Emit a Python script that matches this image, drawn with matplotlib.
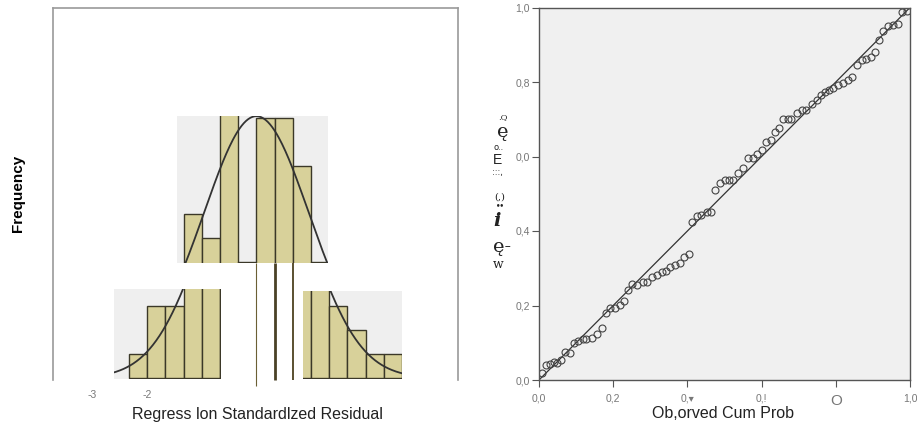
import numpy as np
import matplotlib
matplotlib.use("Agg")
import matplotlib.pyplot as plt

plt.rcParams['font.family'] = ['Liberation Sans', 'DejaVu Sans']

W, H = 917, 426

# histogram of standardized residuals (bins of 1/3)
bin_edges = np.arange(-7, 9) / 3.0
counts = [1, 3, 3, 6, 5, 11, 4, 10, 10, 8, 4, 3, 2, 1, 1]
res_mean = 0.0
res_std = 0.95
hist_ticks = [-3, -2]
hist_ticklabels = ["-3", "-2"]

# P-P plot: observed vs expected cum prob
obs_cum = [0.007, 0.019, 0.030, 0.040, 0.049, 0.058, 0.070, 0.084, 0.093, 0.106,
           0.118, 0.128, 0.142, 0.155, 0.169, 0.180, 0.191, 0.205, 0.218, 0.229,
           0.241, 0.252, 0.265, 0.279, 0.290, 0.304, 0.317, 0.331, 0.342, 0.353,
           0.367, 0.380, 0.391, 0.403, 0.413, 0.425, 0.438, 0.452, 0.463, 0.474,
           0.488, 0.501, 0.513, 0.524, 0.537, 0.549, 0.562, 0.576, 0.587, 0.600,
           0.612, 0.624, 0.636, 0.648, 0.659, 0.670, 0.679, 0.695, 0.708, 0.721,
           0.735, 0.748, 0.759, 0.771, 0.783, 0.793, 0.807, 0.820, 0.834, 0.845,
           0.858, 0.870, 0.881, 0.894, 0.907, 0.917, 0.928, 0.942, 0.955, 0.969,
           0.978, 0.991]
exp_cum = [0.020, 0.040, 0.042, 0.047, 0.045, 0.055, 0.074, 0.073, 0.100, 0.106,
           0.109, 0.109, 0.112, 0.123, 0.139, 0.179, 0.192, 0.192, 0.201, 0.212,
           0.242, 0.258, 0.255, 0.264, 0.264, 0.277, 0.282, 0.291, 0.293, 0.304,
           0.309, 0.315, 0.331, 0.338, 0.425, 0.440, 0.443, 0.452, 0.452, 0.510,
           0.530, 0.537, 0.538, 0.537, 0.555, 0.568, 0.595, 0.595, 0.608, 0.617,
           0.640, 0.644, 0.666, 0.677, 0.702, 0.702, 0.702, 0.716, 0.725, 0.725,
           0.742, 0.751, 0.765, 0.774, 0.778, 0.785, 0.792, 0.796, 0.805, 0.814,
           0.845, 0.859, 0.863, 0.866, 0.881, 0.914, 0.937, 0.950, 0.953, 0.955,
           0.988, 0.991]
pp_ticks = [0.0, 0.2, 0.4, 0.6, 0.8, 1.0]
pp_yticklabels = ["0,0", "0,2", "0,4", "0,0", "0,8", "1,0"]
pp_xticklabels = ["0,0", "0,2", "0,\u25be", "0,!", "O", "1,0"]

BAR = "#d8d19a"
EDGE = "#3b3828"
PANEL = "#efefef"


def rect(l, t, r, b):
    return [l / W, 1 - b / H, (r - l) / W, (b - t) / H]


fig = plt.figure(figsize=(W / 100, H / 100), dpi=100)

# ---- left: histogram frame
px_per_unit = 54.6
zero_px = 256.4
count_px = 24.0
base_px = 378.0


def zx(px):
    return (px - zero_px) / px_per_unit


def cy(px):
    return (base_px - px) / count_px


frame = fig.add_axes(rect(53, 8, 458, 380))
frame.set_xlim(zx(53), zx(458))
frame.set_ylim(cy(380), cy(8))
frame.set_facecolor("none")
for s in ["left", "top", "right"]:
    frame.spines[s].set_color("#9a9a9a")
    frame.spines[s].set_linewidth(1.2)
frame.spines["bottom"].set_visible(False)
frame.set_yticks([])
frame.set_xticks(hist_ticks)
frame.set_xticklabels(hist_ticklabels, color="#777777", fontsize=7.5)
frame.tick_params(axis="x", length=0, pad=7)

zz = np.linspace(-4, 4, 400)
curve = sum(counts) * (bin_edges[1] - bin_edges[0]) / (res_std * np.sqrt(2 * np.pi)) \
    * np.exp(-0.5 * ((zz - res_mean) / res_std) ** 2)

pieces = [
    (177, 116, 328, 263, 4 - 0.04),
    (114, 289, 221, 379, None),
    (303, 291, 402, 379, None),
]
for l, t, r, b, ybot in pieces:
    ax = fig.add_axes(rect(l, t, r, b))
    ax.set_facecolor(PANEL)
    ax.bar(bin_edges[:-1], counts, width=np.diff(bin_edges), align="edge",
           color=BAR, edgecolor=EDGE, linewidth=1.0)
    ax.plot(zz, curve, color="#333333", lw=1.3)
    ax.set_xlim(zx(l), zx(r))
    if ybot is None:
        ax.set_ylim(cy(b), cy(t))
    else:
        ax.set_ylim(ybot, ybot + (b - t) / count_px)
    ax.set_xticks([])
    ax.set_yticks([])
    for s in ax.spines.values():
        s.set_visible(False)

# leftover bar edges between the pieces
frame.vlines(bin_edges[7], cy(386), cy(263), color="#6b5f35", lw=0.8, clip_on=False)
frame.vlines(bin_edges[8], cy(380), cy(263), color="#4a4126", lw=2.0, clip_on=False)
frame.vlines(bin_edges[9], cy(380), cy(263), color="#5a5030", lw=1.4, clip_on=False)

fig.text(18 / W, 1 - 193 / H, "Frequency", rotation=90, fontsize=11,
         fontweight="bold", ha="center", va="center")
fig.text(257 / W, 1 - 414 / H, "Regress lon Standardlzed Residual", fontsize=11.5,
         ha="center", va="center", color="#222222")

# ---- right: P-P plot
pp = fig.add_axes(rect(539, 7.5, 910, 380))
pp.set_facecolor("#f0f0f0")
pp.plot([0, 1], [0, 1], color="#333333", lw=0.9)
pp.plot(obs_cum, exp_cum, "o", ms=5, mfc="none", mec="#444444", mew=0.8)
pp.set_xlim(0, 1)
pp.set_ylim(0, 1)
for s in pp.spines.values():
    s.set_color("#555555")
    s.set_linewidth(1.0)
pp.set_xticks(pp_ticks)
pp.set_yticks(pp_ticks)
pp.set_xticklabels(pp_xticklabels)
pp.set_yticklabels(pp_yticklabels)
pp.tick_params(length=5, color="#555555", labelcolor="#777777", labelsize=7.5, pad=1.5)
pp.tick_params(axis="x", pad=5)
lab = pp.get_xticklabels()[4]
lab.set_fontsize(11)
fig.text(723 / W, 1 - 414 / H, "Ob,orved Cum Prob", fontsize=11.5,
         ha="center", va="center", color="#222222")

# garbled vertical y label
ylab_bits = [
    (503, 117, ".Q", 6, "normal", "normal", "DejaVu Serif"),
    (503, 132, "\u0119", 14, "normal", "normal", "DejaVu Serif"),
    (499, 148, "o..", 6, "normal", "normal", "DejaVu Sans"),
    (497, 160, "E", 10, "normal", "normal", "Liberation Sans"),
    (497, 173, ":::,", 6, "normal", "normal", "DejaVu Sans"),
    (500, 197, "(,)", 7, "normal", "normal", "DejaVu Serif"),
    (500, 205, "\u2022\u2022", 5, "bold", "normal", "DejaVu Sans"),
    (497, 221, "i", 14, "bold", "italic", "DejaVu Serif"),
    (502, 247, "\u0119-", 14, "normal", "normal", "DejaVu Serif"),
    (498, 264, "w", 9, "normal", "normal", "DejaVu Serif"),
]
for x, y, s, fs, fw, st, fam in ylab_bits:
    fig.text(x / W, 1 - y / H, s, fontsize=fs, fontweight=fw, style=st,
             family=fam, ha="center", va="center", color="#222222")

fig.savefig("out.png", dpi=100)
